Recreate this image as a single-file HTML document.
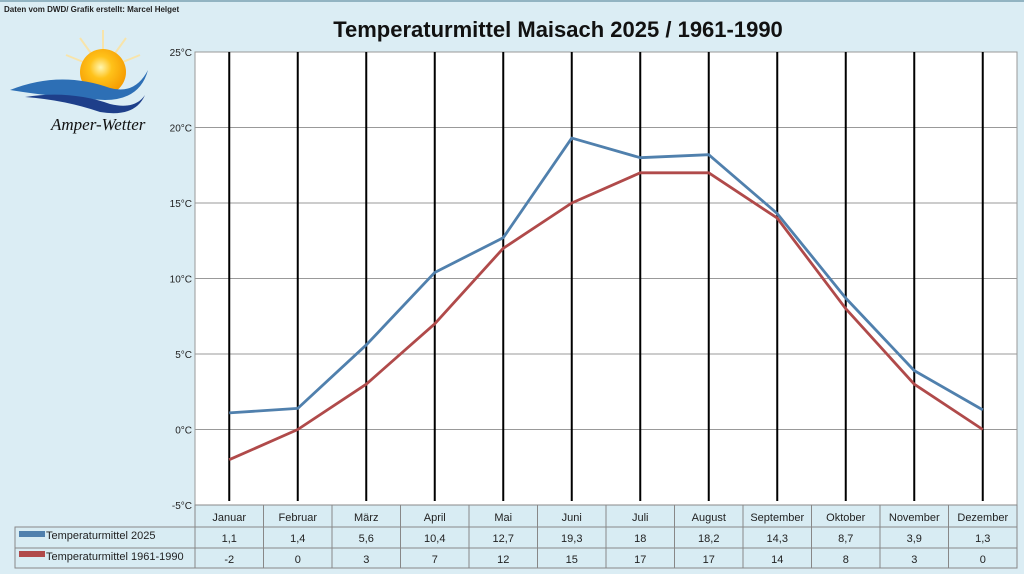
<!DOCTYPE html>
<html><head><meta charset="utf-8"><style>
body{margin:0;width:1024px;height:574px;background:#dbedf4;font-family:"Liberation Sans",sans-serif;overflow:hidden;position:relative}
</style></head><body>
<div style="position:absolute;left:0;top:0;width:1024px;height:574px">
<svg width="1024" height="574" id="svg" style="position:absolute;left:0;top:0">
<defs>
<radialGradient id="sun" cx="0.45" cy="0.4" r="0.6"><stop offset="0" stop-color="#fff6b0"/><stop offset="0.4" stop-color="#ffc21a"/><stop offset="1" stop-color="#f59a00"/></radialGradient>
</defs>
<line x1="0" y1="1" x2="1024" y2="1" stroke="#4a7a90" stroke-width="1"/>
<text x="4" y="12" font-size="8" font-weight="bold" fill="#222">Daten vom DWD/ Grafik erstellt: Marcel Helget</text>
<text x="558" y="37" text-anchor="middle" font-size="22" font-weight="bold" fill="#111">Temperaturmittel Maisach 2025 / 1961-1990</text>
<g>
<g stroke="#ffe39a" stroke-width="2" opacity="0.8">
<line x1="103" y1="70" x2="103" y2="30"/><line x1="103" y1="70" x2="80" y2="38"/><line x1="103" y1="70" x2="126" y2="38"/><line x1="103" y1="70" x2="66" y2="55"/><line x1="103" y1="70" x2="140" y2="55"/>
</g>
<circle cx="103" cy="72" r="23" fill="url(#sun)"/>
<path d="M10 90 Q60 70 110 88 Q135 95 148 70 Q140 100 105 100 Q60 98 10 90Z" fill="#2d6fb5"/>
<path d="M25 97 Q70 90 110 104 Q135 110 145 95 Q135 118 100 112 Q65 100 25 97Z" fill="#1e3f8a"/>
<text x="51" y="130" font-family="Liberation Serif,serif" font-style="italic" font-size="17" fill="#111">Amper-Wetter</text>
</g>
<g id="plot"></g>
</svg>
</div>
<script>
const months=["Januar","Februar","März","April","Mai","Juni","Juli","August","September","Oktober","November","Dezember"];
const s2025=[1.1,1.4,5.6,10.4,12.7,19.3,18,18.2,14.3,8.7,3.9,1.3];
const s1961=[-2,0,3,7,12,15,17,17,14,8,3,0];
const yTicks=[-5,0,5,10,15,20,25];
const seriesNames=["Temperaturmittel 2025","Temperaturmittel 1961-1990"];
const colors=["#5080ad","#b04a4a"];
const L=195,R=1017,T=52,B=505,ymin=-5,ymax=25;
const cw=(R-L)/months.length;
const x=i=>L+cw*(i+0.5);
const y=v=>B-(v-ymin)/(ymax-ymin)*(B-T);
const ns="http://www.w3.org/2000/svg";
const g=document.getElementById('plot');
function el(t,a,p){const e=document.createElementNS(ns,t);for(const k in a)e.setAttribute(k,a[k]);(p||g).appendChild(e);return e;}
const bg=el('rect',{x:L,y:T,width:R-L,height:B-T,fill:'#fff',stroke:'#999'});


yTicks.forEach(v=>{
 const l=el('line',{x1:L,x2:R,y1:y(v),y2:y(v),stroke:'#999','stroke-width':1});
 
 
 const t=el('text',{x:L-3,y:y(v)+4,'text-anchor':'end','font-size':10,fill:'#222'});
 t.textContent=v+'°C';
 
 
});
months.forEach((m,i)=>{
 const l=el('line',{x1:x(i),x2:x(i),y1:T,y2:B-4,stroke:'#000','stroke-width':2});
 
 
});
[s2025,s1961].forEach((s,k)=>{
 const p=el('polyline',{points:s.map((v,i)=>x(i)+','+y(v)).join(' '),fill:'none',stroke:colors[k],'stroke-width':2.8,'stroke-linejoin':'round'});
 
 
});
// table
const rows=[B,527,548,568];
const tb=el('rect',{x:L,y:B,width:R-L,height:568-B,fill:'#d8ecf3',stroke:'#888'});


const lb=el('rect',{x:15,y:527,width:L-15,height:41,fill:'#d8ecf3',stroke:'#888'});


[527,548].forEach(r=>{const l=el('line',{x1:15,x2:R,y1:r,y2:r,stroke:'#888'});});
for(let i=1;i<months.length;i++){const l=el('line',{x1:L+cw*i,x2:L+cw*i,y1:B,y2:568,stroke:'#888'});}
months.forEach((m,i)=>{
 const t=el('text',{x:x(i),y:521,'text-anchor':'middle','font-size':11,fill:'#222'});t.textContent=m;
 
 
 [s2025,s1961].forEach((s,k)=>{
  const v=el('text',{x:x(i),y:k?563:542,'text-anchor':'middle','font-size':11,fill:'#222'});
  v.textContent=String(s[i]).replace('.',',');
  
  
 });
});
seriesNames.forEach((n,k)=>{
 const r=el('rect',{x:19,y:k?551:531,width:26,height:6,fill:colors[k]});
 
 
 const t=el('text',{x:46,y:k?560:539,'font-size':11,fill:'#222'});t.textContent=n;
 
 
});
</script>
</body></html>
